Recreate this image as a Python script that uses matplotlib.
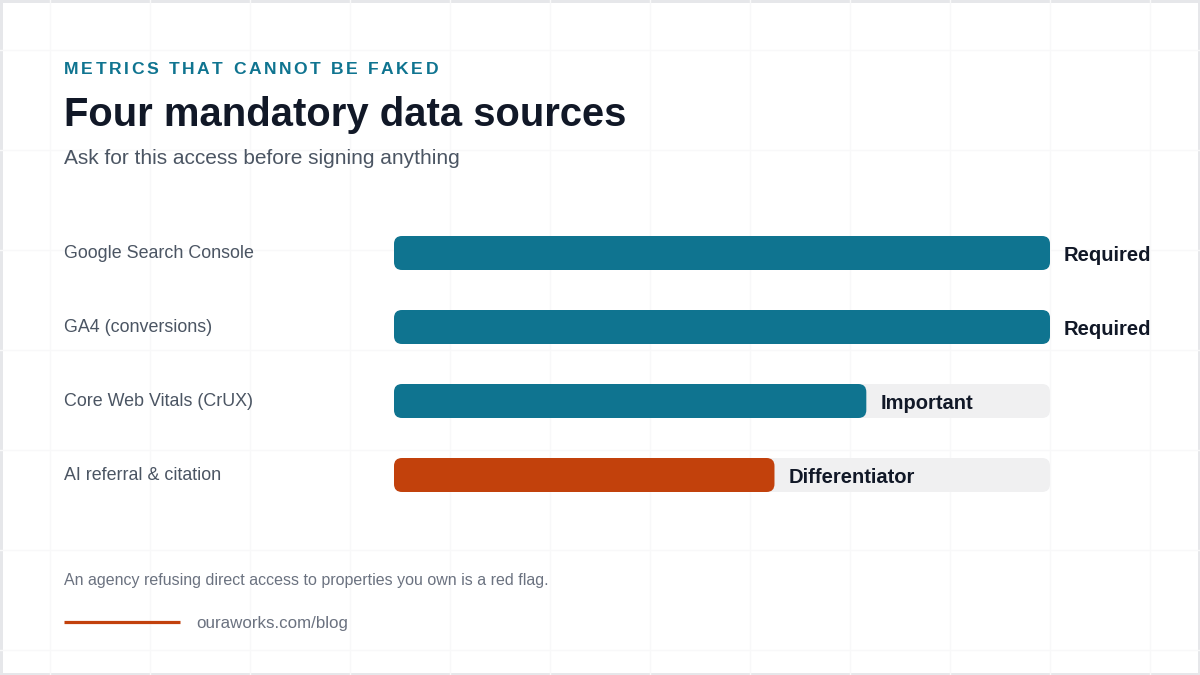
import numpy as np
import matplotlib
matplotlib.use("Agg")
import matplotlib.pyplot as plt
from matplotlib.patches import FancyBboxPatch
from matplotlib.lines import Line2D
from matplotlib.font_manager import FontProperties
import matplotlib.transforms as mtransforms

# ==========================================
# DATA
# ==========================================

sources = ["Google Search Console", "GA4 (conversions)", "Core Web Vitals (CrUX)", "AI referral & citation"]
levels = [1.0, 1.0, 0.72, 0.58]
tags = ["Required", "Required", "Important", "Differentiator"]
is_accent = [False, False, False, True]

kicker = "METRICS THAT CANNOT BE FAKED"
title = "Four mandatory data sources"
subtitle = "Ask for this access before signing anything"
footnote = "An agency refusing direct access to properties you own is a red flag."
source_url = "ouraworks.com/blog"

TEAL = "#0f7490"
ORANGE = "#c2410c"
TRACK = "#f0f0f1"
INK = "#111827"
GREY = "#4b5563"
MUTED = "#6b7280"

plt.rcParams["font.family"] = ["Liberation Sans", "DejaVu Sans"]

W, H = 1200, 675
fig = plt.figure(figsize=(12, 6.75), dpi=100)
fig.patch.set_facecolor("white")
fig.patch.set_edgecolor("#e6e7ea")
fig.patch.set_linewidth(2.5)

# faint background grid
for gx in np.arange(50, W, 100):
    fig.add_artist(Line2D([gx / W, gx / W], [0, 1], color="#f8f8f9", lw=1, zorder=0))
for gy in np.arange(50, H, 100):
    fig.add_artist(Line2D([0, 1], [1 - gy / H, 1 - gy / H], color="#f8f8f9", lw=1, zorder=0))

# ==========================================
# HEADER
# ==========================================

renderer = fig.canvas.get_renderer()
kfont = FontProperties(family="Liberation Sans", weight="bold", size=12.6)
x = 64
spacing = 2.6
for ch in kicker:
    fig.text(x / W, 1 - 70 / H, ch, fontproperties=kfont, color=TEAL, va="center", ha="left")
    w, _, _ = renderer.get_text_width_height_descent(ch, kfont, ismath=False)
    x += w + spacing

fig.text(64 / W, 1 - 115 / H, title, fontsize=28.8, fontweight="bold", color=INK, va="center", ha="left")
fig.text(64 / W, 1 - 159 / H, subtitle, fontsize=15, color=GREY, va="center", ha="left")

# ==========================================
# BARS
# ==========================================

left, right = 394, 1050
top, bottom = 216, 512
ax = fig.add_axes([left / W, 1 - bottom / H, (right - left) / W, (bottom - top) / H])
ax.set_xlim(0, 1)
ax.set_ylim(len(sources) - 0.5, -0.5)
ax.axis("off")

px_x = 1 / (right - left)
px_y = len(sources) / (bottom - top)
bar_h = 34 * px_y
radius = 8 * px_x
aspect = px_y / px_x

trans = mtransforms.blended_transform_factory(fig.transFigure, ax.transData)
for i, (name, val, tag, acc) in enumerate(zip(sources, levels, tags, is_accent)):
    track = FancyBboxPatch((0, i - bar_h / 2), 1, bar_h,
                           boxstyle=f"round,pad=0,rounding_size={radius}",
                           mutation_aspect=aspect, fc=TRACK, ec="none", zorder=1)
    ax.add_patch(track)
    bar = FancyBboxPatch((0, i - bar_h / 2), val, bar_h,
                         boxstyle=f"round,pad=0,rounding_size={radius}",
                         mutation_aspect=aspect, fc=ORANGE if acc else TEAL, ec="none", zorder=2)
    ax.add_patch(bar)
    ax.annotate(tag, (val, i), xytext=(10, -1.5), textcoords="offset points",
                fontsize=14.5, fontweight="bold", color=INK, va="center", ha="left", zorder=3)
    ax.text(64 / W, i, name, transform=trans, fontsize=12.9, color=GREY,
            va="center", ha="left", clip_on=False)

# ==========================================
# FOOTER
# ==========================================

fig.text(64 / W, 1 - 580 / H, footnote, fontsize=11.5, color=MUTED, va="center", ha="left")
fig.add_artist(Line2D([64 / W, 180 / W], [1 - 622 / H, 1 - 622 / H], color=ORANGE, lw=2.3,
                      solid_capstyle="butt"))
fig.text(196 / W, 1 - 623.5 / H, source_url, fontsize=12.2, color=MUTED, va="center", ha="left")

fig.savefig("out.png", dpi=100, facecolor=fig.get_facecolor(), edgecolor=fig.get_edgecolor())
